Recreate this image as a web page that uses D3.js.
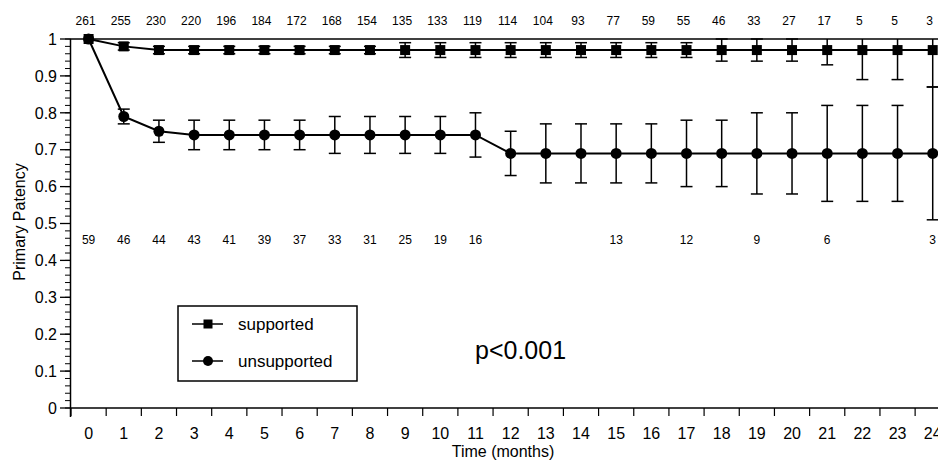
<!DOCTYPE html>
<html>
<head>
<meta charset="utf-8">
<script src="https://cdn.jsdelivr.net/npm/d3@7"></script>
<style>
  html, body { margin: 0; padding: 0; background: #fff; }
  svg { display: block; font-family: "Liberation Sans", Arial, sans-serif; }
</style>
</head>
<body>
<svg id="chart" width="938" height="465"></svg>
<script>
// ---- data ----
const months = d3.range(0, 25);
const supported = [1, 0.98, 0.97, 0.97, 0.97, 0.97, 0.97, 0.97, 0.97, 0.97, 0.97, 0.97, 0.97,
                   0.97, 0.97, 0.97, 0.97, 0.97, 0.97, 0.97, 0.97, 0.97, 0.97, 0.97, 0.97];
const supportedErr = [0, 0.01, 0.01, 0.01, 0.01, 0.01, 0.01, 0.01, 0.01, 0.02, 0.02, 0.02, 0.02,
                      0.02, 0.02, 0.02, 0.02, 0.02, 0.03, 0.03, 0.03, 0.04, 0.08, 0.08, 0.10];
const unsupported = [1, 0.79, 0.75, 0.74, 0.74, 0.74, 0.74, 0.74, 0.74, 0.74, 0.74, 0.74, 0.69,
                     0.69, 0.69, 0.69, 0.69, 0.69, 0.69, 0.69, 0.69, 0.69, 0.69, 0.69, 0.69];
const unsupportedErr = [0, 0.02, 0.03, 0.04, 0.04, 0.04, 0.04, 0.05, 0.05, 0.05, 0.05, 0.06, 0.06,
                        0.08, 0.08, 0.08, 0.08, 0.09, 0.09, 0.11, 0.11, 0.13, 0.13, 0.13, 0.18];
const atRiskSupported = [261, 255, 230, 220, 196, 184, 172, 168, 154, 135, 133, 119, 114,
                         104, 93, 77, 59, 55, 46, 33, 27, 17, 5, 5, 3];
const atRiskUnsupported = [59, 46, 44, 43, 41, 39, 37, 33, 31, 25, 19, 16, null,
                           null, null, 13, null, 12, null, 9, null, 6, null, null, 3];
const yTicks = d3.range(0, 1.01, 0.1);
const legendLabels = ["supported", "unsupported"];
const pLabel = "p<0.001";

// ---- layout ----
const svg = d3.select("#chart");
const FONT = "'Liberation Sans', Arial, sans-serif";
const x = d3.scaleLinear().domain([-0.5, 24.5]).range([71, 950.3]);
const y = d3.scaleLinear().domain([0, 1]).range([408, 39]).clamp(true);

svg.append("rect").attr("width", 938).attr("height", 465).attr("fill", "#fff");

// y axis with minor ticks
const yMinor = d3.range(0, 1.001, 0.02);
svg.append("g").selectAll("line").data(yMinor).enter().append("line")
  .attr("x1", 65).attr("x2", 71)
  .attr("y1", d => y(d)).attr("y2", d => y(d))
  .attr("stroke", "#000").attr("stroke-width", 1);
svg.append("g").selectAll("line").data(yTicks).enter().append("line")
  .attr("x1", 60).attr("x2", 71)
  .attr("y1", d => y(d)).attr("y2", d => y(d))
  .attr("stroke", "#000").attr("stroke-width", 1.3);
svg.append("g").selectAll("text").data(yTicks).enter().append("text")
  .attr("x", 57).attr("y", d => y(d)).attr("dy", "0.36em")
  .attr("text-anchor", "end").attr("font-size", 16).attr("font-family", FONT)
  .text(d => d3.format("~g")(+d.toFixed(1)));
svg.append("line").attr("x1", 70.5).attr("x2", 70.5).attr("y1", y(1)).attr("y2", 417)
  .attr("stroke", "#000").attr("stroke-width", 1.5);

// x axis: ticks at month boundaries, labels at month centres
const xBounds = d3.range(-0.5, 25, 1);
svg.append("line").attr("x1", 71).attr("x2", 938).attr("y1", y(0)).attr("y2", y(0))
  .attr("stroke", "#000").attr("stroke-width", 1.5);
svg.append("line").attr("x1", 71).attr("x2", 938).attr("y1", y(1)).attr("y2", y(1))
  .attr("stroke", "#000").attr("stroke-width", 1.5);
svg.append("g").selectAll("line").data(xBounds).enter().append("line")
  .attr("x1", d => x(d)).attr("x2", d => x(d))
  .attr("y1", y(0)).attr("y2", y(0) + 8)
  .attr("stroke", "#000").attr("stroke-width", 1.2);
svg.append("g").selectAll("text").data(months).enter().append("text")
  .attr("x", d => x(d)).attr("y", 439)
  .attr("text-anchor", "middle").attr("font-size", 16).attr("font-family", FONT)
  .text(d => d);

svg.append("text").attr("x", 503).attr("y", 457)
  .attr("text-anchor", "middle").attr("font-size", 16).attr("font-family", FONT)
  .text("Time (months)");
svg.append("text").attr("transform", "translate(25,222) rotate(-90)")
  .attr("text-anchor", "middle").attr("font-size", 16).attr("font-family", FONT)
  .text("Primary Patency");

// numbers at risk
svg.append("g").selectAll("text").data(atRiskSupported).enter().append("text")
  .attr("x", (d, i) => x(i) - 3).attr("y", 25)
  .attr("text-anchor", "middle").attr("font-size", 12).attr("font-family", FONT)
  .text(d => d);
svg.append("g").selectAll("text")
  .data(atRiskUnsupported.map((v, i) => ({ v, i })).filter(d => d.v !== null))
  .enter().append("text")
  .attr("x", d => x(d.i)).attr("y", 244)
  .attr("text-anchor", "middle").attr("font-size", 12).attr("font-family", FONT)
  .text(d => d.v);

// error bars
function errorBars(vals, errs) {
  const g = svg.append("g").attr("stroke", "#000").attr("stroke-width", 1.5);
  vals.forEach((v, i) => {
    const e = errs[i];
    if (!e) return;
    const cx = x(i), lo = v - e, hi = v + e;
    g.append("line").attr("x1", cx).attr("x2", cx).attr("y1", y(lo)).attr("y2", y(hi));
    g.append("line").attr("x1", cx - 6).attr("x2", cx + 6).attr("y1", y(lo)).attr("y2", y(lo));
    if (hi <= 1) g.append("line").attr("x1", cx - 6).attr("x2", cx + 6).attr("y1", y(hi)).attr("y2", y(hi));
  });
}
errorBars(supported, supportedErr);
errorBars(unsupported, unsupportedErr);

// lines
const line = d3.line().x((d, i) => x(i)).y(d => y(d));
[supported, unsupported].forEach(s => {
  svg.append("path").datum(s).attr("d", line)
    .attr("fill", "none").attr("stroke", "#000").attr("stroke-width", 2);
});

// markers
svg.append("g").selectAll("rect").data(supported).enter().append("rect")
  .attr("x", (d, i) => x(i) - 5).attr("y", d => y(d) - 5)
  .attr("width", 10).attr("height", 10).attr("fill", "#000");
svg.append("g").selectAll("circle").data(unsupported).enter().append("circle")
  .attr("cx", (d, i) => x(i)).attr("cy", d => y(d)).attr("r", 5.5).attr("fill", "#000");

// legend
const leg = svg.append("g");
leg.append("rect").attr("x", 178).attr("y", 306).attr("width", 179).attr("height", 75)
  .attr("fill", "#fff").attr("stroke", "#000").attr("stroke-width", 1.5);
const legY = [324, 361];
legendLabels.forEach((lab, i) => {
  leg.append("line").attr("x1", 192).attr("x2", 223).attr("y1", legY[i]).attr("y2", legY[i])
    .attr("stroke", "#000").attr("stroke-width", 1.5);
  if (i === 0) {
    leg.append("rect").attr("x", 203.5).attr("y", legY[i] - 4.5).attr("width", 9).attr("height", 9).attr("fill", "#000");
  } else {
    leg.append("circle").attr("cx", 208).attr("cy", legY[i]).attr("r", 5).attr("fill", "#000");
  }
  leg.append("text").attr("x", 238).attr("y", legY[i] + 6)
    .attr("font-size", 17).attr("font-family", FONT).text(lab);
});

svg.append("text").attr("x", 475).attr("y", 359)
  .attr("font-size", 25).attr("font-family", FONT).text(pLabel);
</script>
</body>
</html>
